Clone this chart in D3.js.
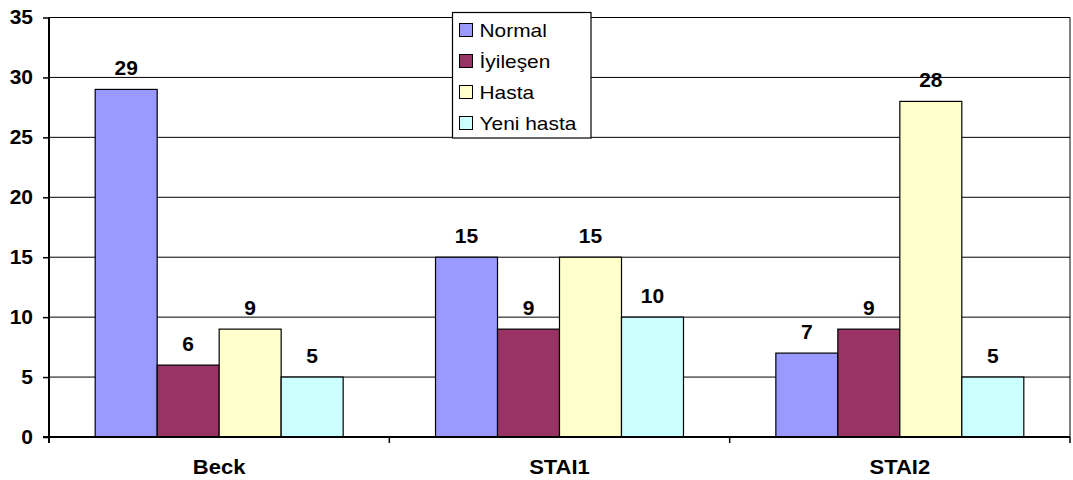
<!DOCTYPE html>
<html>
<head>
<meta charset="utf-8">
<script src="https://cdn.jsdelivr.net/npm/d3@7"></script>
<style>
  html, body { margin: 0; padding: 0; background: #fff; }
  svg { display: block; font-family: "Liberation Sans", Arial, sans-serif; }
</style>
</head>
<body>
<svg id="chart" width="1073" height="480"></svg>
<script>
// Test groups and scores per patient category
const categories = ["Beck", "STAI1", "STAI2"];
const seriesNames = ["Normal", "İyileşen", "Hasta", "Yeni hasta"];
const normal   = [29, 15, 7];
const iyilesen = [6, 9, 9];
const hasta    = [9, 15, 28];
const yeniHasta = [5, 10, 5];
const yTicks = [0, 5, 10, 15, 20, 25, 30, 35];

const seriesValues = [normal, iyilesen, hasta, yeniHasta];
const colors = ["#9999FF", "#993366", "#FFFFCC", "#CCFFFF"];

const svg = d3.select("#chart");
const plotLeft = 49, plotRight = 1070, plotTop = 17.5, plotBottom = 437;

const x = d3.scaleBand().domain(categories).range([plotLeft, plotRight]).paddingInner(0).paddingOuter(0);
const inner = d3.scaleBand().domain(seriesNames).range([0, x.bandwidth()]).paddingInner(0).paddingOuter(0.745);
const y = d3.scaleLinear().domain([0, 35]).range([plotBottom, plotTop]);

// widen glyphs slightly, keeping the anchor point
function widen(sel, k) {
  sel.each(function () {
    const w = this.getComputedTextLength();
    d3.select(this).attr("textLength", w * k).attr("lengthAdjust", "spacingAndGlyphs");
  });
}

// horizontal gridlines
svg.append("g")
  .selectAll("line")
  .data(yTicks.filter(d => d > 0))
  .join("line")
  .attr("x1", plotLeft).attr("x2", plotRight)
  .attr("y1", d => y(d)).attr("y2", d => y(d))
  .attr("stroke", "#000").attr("stroke-width", 1);

// right border of the plot area
svg.append("line")
  .attr("x1", plotRight).attr("x2", plotRight).attr("y1", plotTop).attr("y2", plotBottom)
  .attr("stroke", "#000").attr("stroke-width", 1);

// bars
const groups = svg.append("g")
  .selectAll("g")
  .data(categories)
  .join("g")
  .attr("transform", c => `translate(${x(c)},0)`);

groups.selectAll("rect")
  .data((c, ci) => seriesNames.map((s, si) => ({ s, si, v: seriesValues[si][ci] })))
  .join("rect")
  .attr("x", d => inner(d.s))
  .attr("width", inner.bandwidth())
  .attr("y", d => y(d.v))
  .attr("height", d => y(0) - y(d.v))
  .attr("fill", d => colors[d.si])
  .attr("stroke", "#000").attr("stroke-width", 1.2);

// value labels
groups.selectAll("text")
  .data((c, ci) => seriesNames.map((s, si) => ({ s, si, v: seriesValues[si][ci] })))
  .join("text")
  .attr("x", d => inner(d.s) + inner.bandwidth() / 2)
  .attr("y", d => y(d.v) - 14)
  .attr("text-anchor", "middle")
  .attr("font-size", 20).attr("font-weight", "bold")
  .text(d => d.v)
  .call(widen, 1.05);

// y axis
const yAxis = svg.append("g")
  .attr("transform", `translate(${plotLeft},0)`)
  .call(d3.axisLeft(y).tickValues(yTicks).tickSize(6).tickPadding(10).tickFormat(d3.format("d")));
yAxis.select(".domain").attr("stroke-width", 2).attr("d", `M0,${plotTop}V${plotBottom + 6}`);
yAxis.selectAll(".tick line").attr("stroke-width", 1.5);
yAxis.selectAll(".tick text")
  .attr("font-size", 20).attr("font-weight", "bold")
  .attr("font-family", "Liberation Sans, Arial, sans-serif").attr("fill", "#000")
  .call(widen, 1.05);

// x axis
const xAxis = svg.append("g")
  .attr("transform", `translate(0,${plotBottom})`)
  .call(d3.axisBottom(x).tickSize(0).tickPadding(23));
xAxis.select(".domain").attr("stroke-width", 2).attr("d", `M${plotLeft - 6},0H${plotRight}`);
xAxis.selectAll(".tick text")
  .attr("font-size", 20).attr("font-weight", "bold")
  .attr("font-family", "Liberation Sans, Arial, sans-serif").attr("fill", "#000")
  .call(widen, 1.1);
// category separators
svg.append("g")
  .selectAll("line")
  .data(categories.map(c => x(c)).concat([plotRight]).slice(1))
  .join("line")
  .attr("x1", d => d).attr("x2", d => d)
  .attr("y1", plotBottom).attr("y2", plotBottom + 6)
  .attr("stroke", "#000").attr("stroke-width", 1.5);

// legend
const legend = svg.append("g").attr("transform", "translate(452.5,12.5)");
legend.append("rect")
  .attr("width", 138.5).attr("height", 125.5)
  .attr("fill", "#fff").attr("stroke", "#000").attr("stroke-width", 1.2);
const items = legend.selectAll("g.item")
  .data(seriesNames)
  .join("g")
  .attr("class", "item")
  .attr("transform", (d, i) => `translate(7,${11 + i * 31})`);
items.append("rect")
  .attr("width", 13).attr("height", 13)
  .attr("fill", (d, i) => colors[i])
  .attr("stroke", "#000").attr("stroke-width", 1);
items.append("text")
  .attr("x", 20).attr("y", 13.5)
  .attr("font-size", 19)
  .text(d => d)
  .call(widen, 1.1);
</script>
</body>
</html>
